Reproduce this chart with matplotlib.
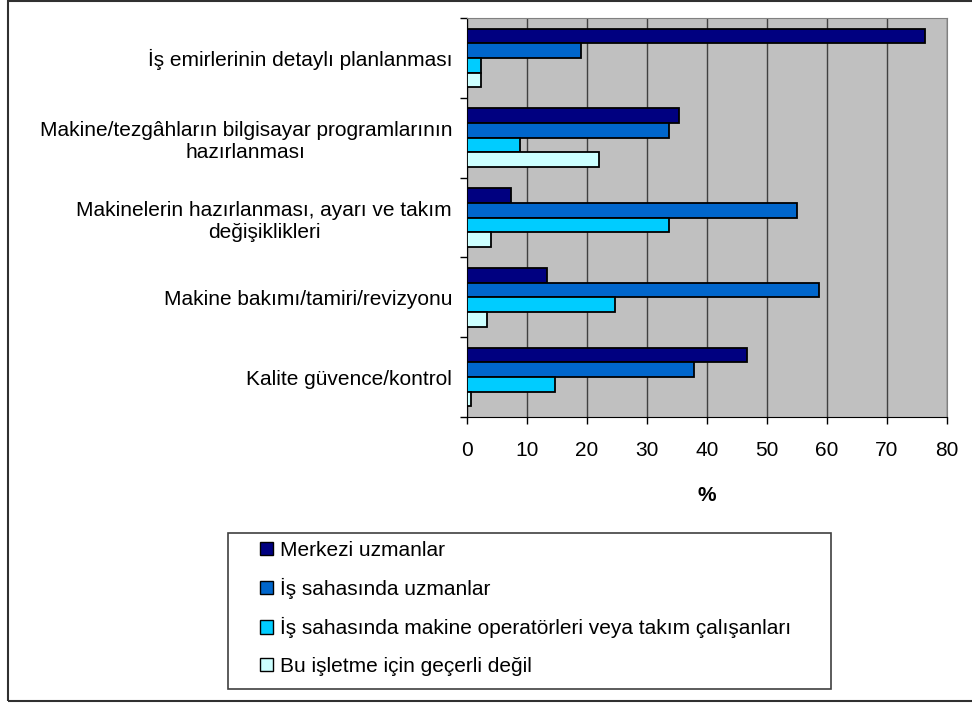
import matplotlib.pyplot as plt
from matplotlib.patches import Patch, Rectangle
import numpy as np

plt.rcParams["font.family"] = ["Liberation Sans", "DejaVu Sans"]

# Kategoriler (yukaridan asagiya)
kategoriler = [
    "İş emirlerinin detaylı planlanması",
    "Makine/tezgâhların bilgisayar programlarının\nhazırlanması",
    "Makinelerin hazırlanması, ayarı ve takım\ndeğişiklikleri",
    "Makine bakımı/tamiri/revizyonu",
    "Kalite güvence/kontrol",
]

seri_adlari = [
    "Merkezi uzmanlar",
    "İş sahasında uzmanlar",
    "İş sahasında makine operatörleri veya takım çalışanları",
    "Bu işletme için geçerli değil",
]

merkezi = [76.4, 35.4, 7.3, 13.4, 46.7]
saha_uzman = [19.0, 33.7, 55.0, 58.7, 37.8]
saha_operator = [2.3, 8.9, 33.7, 24.7, 14.7]
gecersiz = [2.3, 22.0, 4.0, 3.3, 0.7]

renkler = ["#000080", "#0066CC", "#00CCFF", "#CCFFFF"]
x_ticks = [0, 10, 20, 30, 40, 50, 60, 70, 80]


def main():
    fig = plt.figure(figsize=(9.72, 7.04), dpi=100)
    ax = fig.add_axes([466.7 / 972, 1 - 417 / 704, 480 / 972, 399 / 704])
    ax.set_facecolor("#C0C0C0")

    seriler = [merkezi, saha_uzman, saha_operator, gecersiz]
    y = np.arange(len(kategoriler))
    h = 0.183
    for k, (vals, renk) in enumerate(zip(seriler, renkler)):
        ax.barh(y + (k - 1.5) * h, vals, height=h, color=renk,
                edgecolor="black", linewidth=1.3, zorder=3)

    ax.set_xlim(0, 80)
    ax.set_ylim(len(kategoriler) - 0.5, -0.5)
    ax.set_xticks(x_ticks)
    ax.set_xticklabels([str(v) for v in x_ticks], fontsize=15)
    ax.tick_params(axis="x", direction="out", length=5, pad=12, width=1)

    # grup sinirlarinda tikler, etiketler ortada
    ax.set_yticks(np.arange(len(kategoriler) + 1) - 0.5)
    ax.set_yticklabels([])
    ax.set_yticks(y, minor=True)
    ax.set_yticklabels(kategoriler, minor=True, fontsize=15,
                       multialignment="center")
    ax.tick_params(axis="y", which="major", direction="out", length=5, width=1)
    ax.tick_params(axis="y", which="minor", length=0, pad=10.5)

    ax.grid(axis="x", color="#404040", linewidth=1, zorder=0)
    ax.set_axisbelow(True)
    ax.spines["left"].set_color("black")
    ax.spines["bottom"].set_color("black")
    ax.spines["top"].set_color("#808080")
    ax.spines["right"].set_color("#808080")

    ax.set_xlabel("%", fontsize=15, fontweight="bold", labelpad=19)

    # lejant
    fig.patches.append(Rectangle((228 / 972, 1 - 689 / 704), 603 / 972, 156 / 704,
                                 transform=fig.transFigure, facecolor="white",
                                 edgecolor="#404040", linewidth=1.2))
    tutamaklar = [Patch(facecolor=r, edgecolor="black", linewidth=1) for r in renkler]
    fig.legend(tutamaklar, seri_adlari, loc="upper left",
               bbox_to_anchor=(260 / 972, 1 - 541 / 704), frameon=False,
               fontsize=15, handlelength=0.6, handleheight=0.6,
               handletextpad=0.35, labelspacing=0.87, borderpad=0,
               borderaxespad=0)

    # dis cerceve
    fig.patches.append(Rectangle((8 / 972, 3 / 704), 1.1, 1 - 4 / 704,
                                 transform=fig.transFigure, facecolor="none",
                                 edgecolor="#303030", linewidth=1.5))

    fig.savefig("out.png", dpi=100)


if __name__ == "__main__":
    main()
